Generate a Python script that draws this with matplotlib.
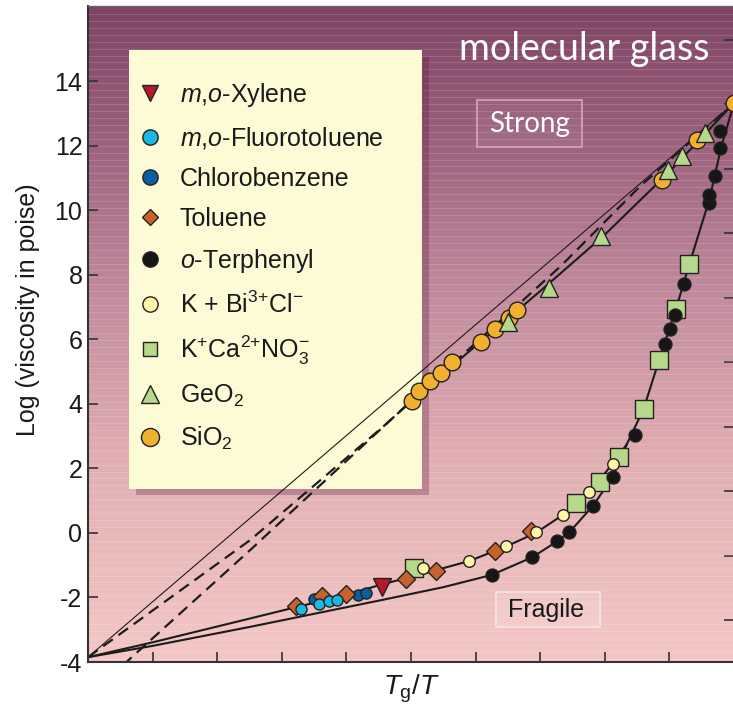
import matplotlib
matplotlib.use("Agg")
import matplotlib.pyplot as plt
import numpy as np
from matplotlib.colors import LinearSegmentedColormap
from matplotlib.lines import Line2D
from matplotlib.patches import Rectangle

plt.rcParams['font.family'] = ['Liberation Sans', 'DejaVu Sans']
plt.rcParams['mathtext.fontset'] = 'custom'
plt.rcParams['mathtext.rm'] = 'Liberation Sans'
plt.rcParams['mathtext.it'] = 'Liberation Sans:italic'
plt.rcParams['axes.unicode_minus'] = False
plt.rcParams['lines.scale_dashes'] = False

# ---- data (x = Tg/T, y = log viscosity in poise) ----
# reference lines
arrh_x = [0.0, 1.0]
arrh_y = [-3.85, 13.33]

strong_dash_x = [0.0, 0.251, 0.457, 0.731, 0.813, 0.854, 1.0]
strong_dash_y = [-3.85, -0.22, 3.30, 8.26, 9.91, 10.74, 13.33]

sio2_ext_x = [0.054, 0.251, 0.50]
sio2_ext_y = [-4.1, -0.53, 4.09]
sio2_fit_x = [0.50, 0.60, 0.70, 0.80, 0.90, 1.0]
sio2_fit_y = [4.09, 5.80, 7.50, 9.25, 11.20, 13.33]

frag_up_x = [0.0, 0.10, 0.251, 0.322, 0.40, 0.452, 0.50, 0.539, 0.59, 0.647, 0.693,
             0.735, 0.776, 0.81, 0.834, 0.86, 0.884, 0.91, 0.931, 0.962, 0.98, 1.0]
frag_up_y = [-3.85, -3.39, -2.65, -2.30, -1.92, -1.61, -1.36, -1.15, -0.87, -0.42, 0.0,
             0.56, 1.25, 2.10, 2.75, 3.84, 5.36, 6.94, 8.34, 10.35, 11.95, 13.33]

frag_lo_x = [0.0, 0.10, 0.251, 0.452, 0.55, 0.625, 0.688, 0.726, 0.745, 0.782, 0.812, 0.834]
frag_lo_y = [-3.85, -3.50, -2.91, -2.09, -1.68, -1.30, -0.75, -0.26, 0.02, 0.85, 1.73, 2.75]

# measured points
sio2_x = [0.501, 0.513, 0.529, 0.546, 0.563, 0.609, 0.630, 0.651, 0.664, 0.888, 0.943, 1.0]
sio2_y = [4.09, 4.40, 4.71, 4.97, 5.31, 5.93, 6.32, 6.68, 6.91, 10.95, 12.19, 13.33]

geo2_x = [0.650, 0.714, 0.794, 0.898, 0.920, 0.955]
geo2_y = [6.55, 7.59, 9.21, 11.24, 11.69, 12.39]

kca_x = [0.505, 0.756, 0.792, 0.822, 0.860, 0.884, 0.910, 0.931]
kca_y = [-1.10, 0.92, 1.59, 2.35, 3.84, 5.36, 6.94, 8.34]

chlb_x = [0.350, 0.418, 0.430]
chlb_y = [-2.06, -1.93, -1.85]

tol_x = [0.322, 0.362, 0.399, 0.492, 0.539, 0.630, 0.686]
tol_y = [-2.26, -1.95, -1.90, -1.43, -1.18, -0.55, 0.07]

fluo_x = [0.330, 0.358, 0.373, 0.385]
fluo_y = [-2.37, -2.21, -2.12, -2.08]

xyl_x = [0.455]
xyl_y = [-1.66]

otp_x = [0.625, 0.688, 0.726, 0.745, 0.782, 0.812, 0.847, 0.893, 0.901, 0.909,
         0.923, 0.962, 0.962, 0.971, 0.979, 0.978]
otp_y = [-1.30, -0.75, -0.24, 0.04, 0.85, 1.73, 3.04, 5.86, 6.32, 6.76,
         7.71, 10.24, 10.48, 11.08, 11.93, 12.47]

kbi_x = [0.519, 0.590, 0.647, 0.693, 0.735, 0.776, 0.812]
kbi_y = [-1.07, -0.87, -0.40, 0.02, 0.56, 1.27, 2.14]

# legend order: (label, x, y, marker, colour, plot size, legend size)
series = [
    ('$m$,$o$-Xylene', xyl_x, xyl_y, 'v', '#b5182b', 13, 11.5),
    ('$m$,$o$-Fluorotoluene', fluo_x, fluo_y, 'o', '#19b8e4', 8, 11),
    ('Chlorobenzene', chlb_x, chlb_y, 'o', '#0b5fa0', 8, 11),
    ('Toluene', tol_x, tol_y, 'D', '#c8622b', 9.5, 8),
    ('$o$-Terphenyl', otp_x, otp_y, 'o', '#161616', 9.3, 11),
    ('K + Bi$^{3{+}}$Cl$^{-}$', kbi_x, kbi_y, 'o', '#fff6a6', 8.3, 11),
    ('K$^{+}$Ca$^{2{+}}$NO$_{3}^{-}$', kca_x, kca_y, 's', '#b6d88a', 12.5, 10),
    ('GeO$_2$', geo2_x, geo2_y, '^', '#b6d88a', 12.5, 13),
    ('SiO$_2$', sio2_x, sio2_y, 'o', '#f1b12e', 12, 13),
]
draw_order = [8, 7, 6, 2, 3, 1, 0, 4, 5]

fig = plt.figure(figsize=(7.33, 7.04), dpi=100)
ax = fig.add_axes([88 / 733, 42 / 704, 646 / 733, 656 / 704])
ax.set_xlim(0, 1)
ax.set_ylim(-4, 16.34)

# background gradient with faint stripes
bg = LinearSegmentedColormap.from_list('bg', [
    (0.0, '#f4c7c5'), (0.3, '#e2b0b3'), (0.55, '#c38d9e'),
    (0.8, '#9c617e'), (1.0, '#7e4464')])
ax.imshow(np.linspace(1, 0, 256).reshape(-1, 1), cmap=bg, aspect='auto',
          extent=[0, 1, -4, 16.34], zorder=0, vmin=0, vmax=1)
ax.hlines(np.arange(-3.9, 16.3, 0.215), 0, 1, colors='white', alpha=0.14,
          lw=0.7, zorder=0.3)

# legend panel with shadow
ax.add_patch(Rectangle((0.0743, 0.254), 0.4535, 0.669, transform=ax.transAxes,
                       facecolor='#5c1840', alpha=0.3, lw=0, zorder=0.8))
ax.add_patch(Rectangle((0.0635, 0.264), 0.4535, 0.669, transform=ax.transAxes,
                       facecolor='#fdfad6', lw=0, zorder=0.9))

# curves
lc = '#1c1c1c'
ax.plot(arrh_x, arrh_y, color=lc, lw=0.8, zorder=2)
ax.plot(strong_dash_x, strong_dash_y, color=lc, lw=1.6, dashes=(8.5, 5), zorder=2)
ax.plot(sio2_ext_x, sio2_ext_y, color=lc, lw=1.6, dashes=(8.5, 5), zorder=2)
ax.plot(sio2_fit_x, sio2_fit_y, color=lc, lw=1.5, zorder=2)
ax.plot(frag_up_x, frag_up_y, color=lc, lw=1.5, zorder=2)
ax.plot(frag_lo_x, frag_lo_y, color=lc, lw=1.5, zorder=2)

for k, i in enumerate(draw_order):
    label, xs, ys, mk, col, ms, _ = series[i]
    ax.plot(xs, ys, ls='none', marker=mk, ms=ms, mfc=col, mec='#222222',
            mew=1.0, zorder=3 + k * 0.01, clip_on=False)

handles = [Line2D([], [], ls='none', marker=mk, ms=lms, mfc=col, mec='#222222', mew=1.0)
           for (_, _, _, mk, col, _, lms) in series]
leg = ax.legend(handles, [s[0] for s in series], loc='upper left',
                bbox_to_anchor=(0.0766, 0.8855), frameon=False, fontsize=18,
                borderpad=0, borderaxespad=0, handlelength=1.0,
                handletextpad=0.7, labelspacing=0.64)
leg.set_zorder(1.5)
for t in leg.get_texts():
    t.set_color('#1a1a1a')

# annotations
ax.text(0.574, 0.9177, 'molecular glass', transform=ax.transAxes, color='white',
        fontsize=27, family='Lato', ha='left', va='baseline', zorder=5)
ax.add_patch(Rectangle((0.602, 0.785), 0.1625, 0.0716, transform=ax.transAxes,
                       facecolor=(1, 1, 1, 0.06), edgecolor='#d4a0bc', lw=1.3, zorder=1))
ax.text(0.683, 0.808, 'Strong', transform=ax.transAxes, color='white',
        fontsize=20, family='Lato', ha='center', va='baseline', zorder=5)
ax.add_patch(Rectangle((0.6316, 0.0534), 0.161, 0.0534, transform=ax.transAxes,
                       facecolor=(1, 1, 1, 0.15), edgecolor='#f6e2e2', lw=1.3, zorder=1))
ax.text(0.7097, 0.0686, 'Fragile', transform=ax.transAxes, color='#1a1a1a',
        fontsize=18, ha='center', va='baseline', zorder=5)

# axes styling
ax.set_xticks(np.arange(0, 1.01, 0.1))
ax.set_xticklabels([])
ax.set_yticks(np.arange(-4, 15, 2))
ax.tick_params(direction='in', length=7, width=1.2, labelsize=18, pad=4,
               colors='#333333', labelcolor='#1a1a1a')
for side in ['left', 'bottom']:
    ax.spines[side].set_color('#333333')
    ax.spines[side].set_linewidth(1.5)
ax.spines['top'].set_color('#666666')
ax.spines['top'].set_linewidth(1.0)

sec = ax.secondary_yaxis('right', functions=(lambda y: y - 1.3, lambda y: y + 1.3))
sec.set_yticks(np.arange(-4, 16, 2))
sec.tick_params(direction='in', length=7, width=1.2, labelright=False, colors='#333333')

ax.set_ylabel('Log (viscosity in poise)', fontsize=18, color='#1a1a1a')
ax.yaxis.set_label_coords(-0.075, 0.537)
ax.set_xlabel(r'$T_{\mathrm{g}}/T$', fontsize=20, color='#1a1a1a', labelpad=4)

fig.savefig('out.png', dpi=100)
